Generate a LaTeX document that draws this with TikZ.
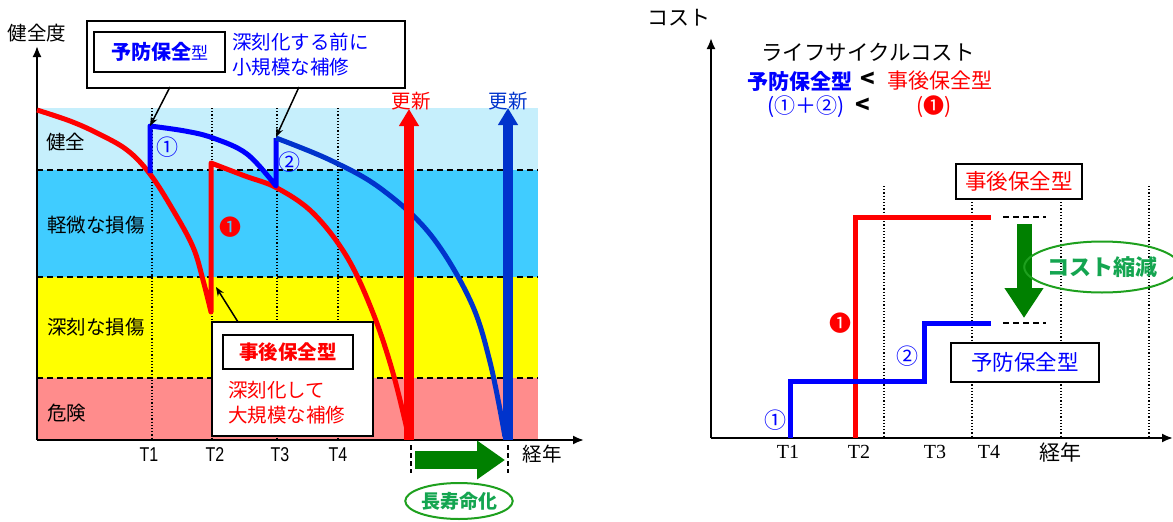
\documentclass[tikz,border=0pt]{standalone}
\usepackage{fontspec}
\setmainfont{Noto Sans CJK JP}
\newfontfamily\ser{Liberation Serif}
\newfontfamily\lsans[FakeStretch=0.8]{Liberation Sans}
\usetikzlibrary{arrows.meta,shapes.geometric}
\definecolor{bandA}{RGB}{198,239,252}
\definecolor{bandB}{RGB}{64,204,255}
\definecolor{bandC}{RGB}{255,255,0}
\definecolor{bandD}{RGB}{255,140,140}
\definecolor{cred}{RGB}{255,0,0}
\definecolor{cblue}{RGB}{0,0,255}
\definecolor{dblue}{RGB}{0,51,204}
\definecolor{cgreen}{RGB}{0,128,0}
\definecolor{egreen}{RGB}{30,160,30}
\definecolor{tgreen}{RGB}{20,165,80}
\tikzset{
  lbl/.style={inner sep=0pt, font=\fontsize{19.5}{22}\selectfont},
  rlbl/.style={inner sep=0pt, font=\fontsize{21}{23}\selectfont},
  tlbl/.style={inner sep=0pt, font=\lsans\fontsize{20}{22}\selectfont},
  rtlbl/.style={inner sep=0pt, font=\ser\fontsize{20}{22}\selectfont},
  circ/.style={inner sep=0pt, font=\fontsize{22}{22}\selectfont},
  bandline/.style={dashed, dash pattern=on 6pt off 4pt, line width=1.6pt},
  tline/.style={dotted, line width=1.2pt},
  curve/.style={line width=5pt, line join=round},
  pointer/.style={line width=1.5pt, -{Stealth[length=9pt,width=7pt]}},
  boxo/.style={draw, line width=2pt, inner sep=0pt, fill=white},
  thickarrow/.style={line width=10pt, -{Triangle[length=17pt,width=19pt]}},
}
\begin{document}
\begin{tikzpicture}[x=1pt,y=-1pt]
\useasboundingbox (0,0) rectangle (1173,522);
% ---------- left chart ----------
\fill[bandA] (37,108) rectangle (538,170);
\fill[bandB] (37,170) rectangle (538,277);
\fill[bandC] (37,277) rectangle (538,378);
\fill[bandD] (37,378) rectangle (538,440);
\foreach \yy in {170,277,378} \draw[bandline] (37,\yy) -- (538,\yy);
\foreach \xx in {152,212,277,338} \draw[tline] (\xx,108) -- (\xx,440);
\coordinate (lo) at (37,440);
\coordinate (ly) at (37,46);
\coordinate (lx) at (584,440);
\draw[line width=2pt, -{Latex[length=11pt,width=9pt]}] (lo) -- (ly);
\draw[line width=2pt, -{Latex[length=11pt,width=9pt]}] (lo) -- (lx);
\node[lbl] (kzd) at (37,33) {健全度};
\node[lbl, anchor=west] (b1) at (46,142) {健全};
\node[lbl, anchor=west] (b2) at (47,225) {軽微な損傷};
\node[lbl, anchor=west] (b3) at (47,327) {深刻な損傷};
\node[lbl, anchor=west] (b4) at (47,413) {危険};
\node[tlbl] (t1) at (149,455) {T1};
\node[tlbl] (t2) at (215,455) {T2};
\node[tlbl] (t3) at (280,455) {T3};
\node[tlbl] (t4) at (338,455) {T4};
\node[lbl] (ky) at (542,454) {経年};
% red curve
\draw[curve, cred] plot[smooth, tension=0.6] coordinates {(37,110) (70,121) (97,133) (127,150) (150,174) (173,210) (193,247) (203,280) (211,312)}
  -- (211,163) -- plot[smooth, tension=0.6] coordinates {(211,163) (245,176) (277,188) (313,213) (347,257) (373,313) (393,373) (409,438)};
% blue curve
\draw[curve, cblue] (150,173) -- (150,126) -- plot[smooth, tension=0.6] coordinates {(150,126) (185,131) (213,138) (247,154) (276,186)} -- (276,138);
\draw[curve, dblue] plot[smooth, tension=0.6] coordinates {(276,138) (330,160) (380,188) (430,234) (470,300) (490,362) (505,437)};
% renewal arrows
\coordinate (rb) at (409,440); \coordinate (rt) at (409,109);
\coordinate (bb) at (508,440); \coordinate (bt) at (508,108);
\draw[thickarrow, cred] (rb) -- (rt);
\draw[thickarrow, dblue] (bb) -- (bt);
\node[lbl, text=cred] (kr) at (411,101) {更新};
\node[lbl, text=dblue] (kb) at (508,101) {更新};
% life extension
\coordinate (m1a) at (411,445); \coordinate (m1b) at (411,473);
\coordinate (m2a) at (508,445); \coordinate (m2b) at (508,473);
\draw[line width=2pt, dashed, dash pattern=on 5pt off 3pt] (m1a) -- (m1b);
\draw[line width=2pt, dashed, dash pattern=on 5pt off 3pt] (m2a) -- (m2b);
\coordinate (ga) at (415,460); \coordinate (gb) at (505,460);
\draw[cgreen, line width=18pt, -{Triangle[length=28pt,width=37pt]}] (ga) -- (gb);
\node[ellipse, draw=egreen, line width=2pt, minimum width=106pt, minimum height=36pt, inner sep=0pt,
  text=tgreen, font=\bfseries\fontsize{19}{21}\selectfont] (choju) at (459,501) {長寿命化};
% top callout
\node[boxo, minimum width=318pt, minimum height=67pt, anchor=north west] (topbox) at (86,20) {};
\node[boxo, minimum width=131pt, minimum height=40pt, anchor=north west] (ybox) at (93,31) {};
\node[lbl, text=cblue] (ytxt) at (ybox.center) {{\bfseries\fontsize{20}{22}\selectfont 予防保全}{\fontsize{17}{18}\selectfont 型}};
\node[lbl, text=cblue, anchor=west] (yd1) at (232,42) {深刻化する前に};
\node[lbl, text=cblue, anchor=west] (yd2) at (232,67) {小規模な補修};
\coordinate (p1s) at (170,87); \coordinate (p1e) at (150,126);
\coordinate (p2s) at (299,87); \coordinate (p2e) at (276,137);
\draw[pointer] (p1s) -- (p1e);
\draw[pointer] (p2s) -- (p2e);
\node[circ, text=cblue] (c1) at (167,147) {①};
\node[circ, text=cblue] (c2) at (289,162) {②};
\node[circ, text=cred] (cr1) at (230,227) {❶};
% bottom callout
\coordinate (p3s) at (238,322); \coordinate (p3e) at (216,287);
\draw[pointer] (p3s) -- (p3e);
\node[boxo, minimum width=161pt, minimum height=114pt, anchor=north west] (botbox) at (211,321) {};
\node[boxo, minimum width=130pt, minimum height=34pt, anchor=north west] (jbox) at (222,334) {};
\node[lbl, text=cred, font=\bfseries\fontsize{19.5}{21}\selectfont] (jtxt) at (jbox.center) {事後保全型};
\node[lbl, text=cred, anchor=west] (jd1) at (228,390) {深刻化して};
\node[lbl, text=cred, anchor=west] (jd2) at (228,415) {大規模な補修};
% ---------- right chart ----------
\foreach \xx in {884,972,1061,1149} \draw[tline] (\xx,186) -- (\xx,438);
\coordinate (ro) at (711,438);
\coordinate (ry) at (711,38);
\coordinate (rx) at (1173,438);
\draw[line width=2pt, -{Latex[length=11pt,width=9pt]}] (ro) -- (ry);
\draw[line width=2pt, -{Latex[length=11pt,width=9pt]}] (ro) -- (rx);
\node[rlbl] (cost) at (679,18) {コスト};
\node[rlbl, font=\fontsize{21.5}{23}\selectfont] (lcc) at (868,52) {ライフサイクルコスト};
\node[rlbl, text=cblue, font=\bfseries\fontsize{21}{23}\selectfont] (cmpa) at (800,81) {予防保全型};
\node[rlbl, font=\bfseries\fontsize{24}{24}\selectfont] (lt1) at (868,80) {<};
\node[rlbl, text=cred] (cmpb) at (940,81) {事後保全型};
\node[rlbl, text=cblue] (cmpc) at (806,107) {(①＋②)};
\node[rlbl, font=\bfseries\fontsize{24}{24}\selectfont] (lt2) at (863,106) {<};
\node[rlbl, text=cred] (cmpd) at (934,107) {(❶)};
% steps
\coordinate (rs0) at (855,438); \coordinate (rs1) at (855,217); \coordinate (rs2) at (991,217);
\draw[line width=5pt, cred] (rs0) -- (rs1) -- (rs2);
\coordinate (bs0) at (790,438); \coordinate (bs1) at (790,381); \coordinate (bs2) at (924,381);
\coordinate (bs3) at (924,323); \coordinate (bs4) at (991,323);
\draw[line width=5pt, cblue] (bs0) -- (bs1) -- (bs2) -- (bs3) -- (bs4);
\coordinate (d1a) at (1003,217); \coordinate (d1b) at (1046,217);
\coordinate (d2a) at (1003,323); \coordinate (d2b) at (1046,323);
\draw[line width=1.6pt, dashed, dash pattern=on 6pt off 4pt] (d1a) -- (d1b);
\draw[line width=1.6pt, dashed, dash pattern=on 6pt off 4pt] (d2a) -- (d2b);
\coordinate (gda) at (1024,224); \coordinate (gdb) at (1024,318);
\draw[cgreen, line width=15pt, -{Triangle[length=30pt,width=37pt]}] (gda) -- (gdb);
\node[ellipse, draw=egreen, line width=2pt, minimum width=120pt, minimum height=51pt, inner sep=0pt,
  text=tgreen, font=\bfseries\fontsize{22}{24}\selectfont] (cut) at (1102,267) {コスト縮減};
\node[boxo, minimum width=126pt, minimum height=35pt, line width=1.5pt, text=cred, font=\fontsize{21.5}{23}\selectfont] (jb2) at (1019,181.5) {事後保全型};
\node[boxo, minimum width=148pt, minimum height=39pt, line width=1.5pt, text=cblue, font=\fontsize{21.5}{23}\selectfont] (yb2) at (1025,362.5) {予防保全型};
\node[circ, text=cred] (r1) at (840,323) {❶};
\node[circ, text=cblue] (r2) at (907,356) {②};
\node[circ, text=cblue] (r3) at (775,420) {①};
\node[rtlbl] (rt1) at (788,452) {T1};
\node[rtlbl] (rt2) at (859,452) {T2};
\node[rtlbl] (rt3) at (935,452) {T3};
\node[rtlbl] (rt4) at (989,452) {T4};
\node[rlbl] (rky) at (1060,452) {経年};
\end{tikzpicture}
\end{document}
